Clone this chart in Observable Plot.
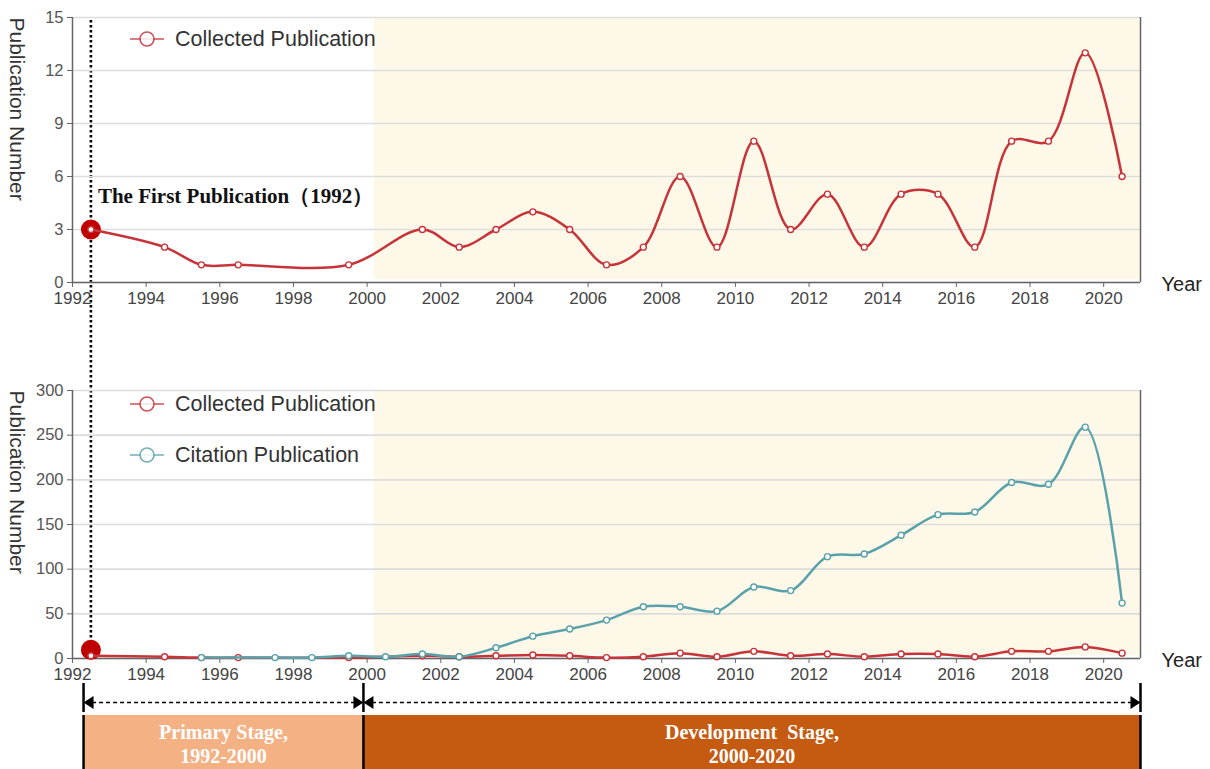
<!DOCTYPE html>
<html><head><meta charset="utf-8">
<script src="https://cdn.jsdelivr.net/npm/d3@7"></script>
<script src="https://cdn.jsdelivr.net/npm/@observablehq/plot@0.6"></script>
<style>
body{margin:0;background:#fff;font-family:"Liberation Sans",Arial,sans-serif;}
#wrap{position:relative;width:1210px;height:769px;overflow:hidden;}
#wrap > svg{position:absolute;left:0;}
.legend{position:absolute;display:flex;align-items:center;font-size:21.5px;color:#333;height:28px;white-space:nowrap;}
</style></head><body><div id="wrap"></div><script>
// ---------- data ----------
const collectedYears = [1992,1994,1995,1996,1999,2001,2002,2003,2004,2005,2006,2007,2008,2009,2010,2011,2012,2013,2014,2015,2016,2017,2018,2019,2020];
const collectedValues = [3,2,1,1,1,3,2,3,4,3,1,2,6,2,8,3,5,2,5,5,2,8,8,13,6];
const citationYears = [1995,1997,1998,1999,2000,2001,2002,2003,2004,2005,2006,2007,2008,2009,2010,2011,2012,2013,2014,2015,2016,2017,2018,2019,2020];
const citationValues = [1,1,1,3,2,5,2,12,25,33,43,58,58,53,80,76,114,117,138,161,164,197,195,259,62];
const xTickYears = [1992,1994,1996,1998,2000,2002,2004,2006,2008,2010,2012,2014,2016,2018,2020];
const topYTicks = [0,3,6,9,12,15];
const bottomYTicks = [0,50,100,150,200,250,300];
const firstYear = [1992];
const firstLabel = ["The First Publication（1992）"];
const seriesNames = ["Collected Publication","Citation Publication"];
const stageNames = ["Primary Stage,\n1992-2000","Development  Stage,\n2000-2020"];
const stageStart = [1992.3, 1999.9];
const stageEnd = [1999.9, 2021];
const shadeStart = [2000.2];
const shadeEnd = [2021];

// ---------- derived tables ----------
const collected = collectedYears.map((y,i)=>({year:y, value:collectedValues[i]}));
const citation = citationYears.map((y,i)=>({year:y, value:citationValues[i]}));
const first = firstYear.map(y => ({year:y, value: collected.find(d=>d.year===y).value, label:firstLabel[0]}));
const stages = stageNames.map((n,i)=>({name:n, start:stageStart[i], end:stageEnd[i], row:"span"}));
const stageEdges = [stageStart[0], ...stageEnd];
const shade = shadeStart.map((s,i)=>({start:s, end:shadeEnd[i]}));
const mid = d => d.year + 0.5; // values plotted at mid-year

const RED = "#c6343a", TEAL = "#5aa2ab", BIG = "#c00000";
const W = 1210, ML = 72, MR = 70;
const xDomain = [1992, 2021];
const FONT = "'Liberation Sans', Arial, sans-serif";
const SERIF = "'Liberation Serif', 'Times New Roman', serif";
const wrap = document.getElementById("wrap");
function place(svg, top){ svg.style.top = top + "px"; wrap.appendChild(svg); }

// ---------- dotted marker line (behind) ----------
place(Plot.plot({
  width: W, height: 769, marginLeft: ML, marginRight: MR, marginTop: 20, marginBottom: 119,
  x: {domain: xDomain, axis: null},
  marks: [Plot.ruleX(first, {x: mid, stroke: "#000", strokeWidth: 2.6, strokeDasharray: "2.6,2.4"})]
}), 0);

function panel({height, mt, mb, yDomain, yTicks, series, bigDy}) {
  return Plot.plot({
    width: W, height, marginLeft: ML, marginRight: MR, marginTop: mt, marginBottom: mb,
    style: {fontFamily: FONT, background: "transparent"},
    x: {domain: xDomain},
    y: {domain: yDomain},
    marks: [
      Plot.rect(shade, {x1: "start", x2: "end", fill: "#fef8e8", insetBottom: 3}),
      Plot.gridY(yTicks, {stroke: "#dddddd", strokeOpacity: 1, strokeWidth: 1.6}),
      Plot.ruleY([yDomain[0]], {stroke: "#666", strokeWidth: 1.5}),
      Plot.ruleX(xDomain, {stroke: "#666", strokeWidth: 1.5}),
      Plot.axisX({ticks: xTickYears, tickFormat: d => String(d), tickSize: 5, tickPadding: 4, fontSize: 17, stroke: "#666", fill: "#444", label: null}),
      Plot.axisY({ticks: yTicks, tickSize: 5, tickPadding: 4, fontSize: 16.5, stroke: "#666", fill: "#555", label: null}),
      Plot.dot(first, {x: mid, y: "value", r: 10, fill: BIG, dy: bigDy}),
      ...series.flatMap(s => [
        Plot.line(s.data, {x: mid, y: "value", curve: "catmull-rom", stroke: s.color, strokeWidth: 2.5}),
        Plot.dot(s.data, {x: mid, y: "value", r: 3, fill: "white", stroke: s.color, strokeWidth: 1.4})
      ]),
      Plot.text(["Publication Number"], {frameAnchor: "top-left", rotate: 90, textAnchor: "start", dx: -48, fontSize: 21, fill: "#333"}),
      Plot.text(["Year"], {frameAnchor: "bottom-right", textAnchor: "start", dx: 21, dy: 8, fontSize: 20, fill: "#222"})
    ]
  });
}

// ---------- top panel ----------
place(panel({height: 310, mt: 17, mb: 28, yDomain: [0, 15], yTicks: topYTicks,
  series: [{data: collected, color: RED}], bigDy: 0}), 0);
// annotation label in top panel
place(Plot.plot({
  width: W, height: 310, marginLeft: ML, marginRight: MR, marginTop: 17, marginBottom: 28,
  x: {domain: xDomain, axis: null}, y: {domain: [0, 15], axis: null},
  marks: [Plot.text(first, {x: mid, y: "value", text: "label", textAnchor: "start", dx: 7, dy: -33,
    fontSize: 21, fontWeight: "bold", fontFamily: SERIF, fill: "#111"})]
}), 0);

// ---------- bottom panel ----------
place(panel({height: 320, mt: 20, mb: 32, yDomain: [0, 300], yTicks: bottomYTicks,
  series: [{data: collected, color: RED}, {data: citation, color: TEAL}], bigDy: -6}), 370);

// ---------- legends ----------
function legendItem(color, label, cy) {
  const div = document.createElement("div");
  div.className = "legend";
  div.style.left = "129px"; div.style.top = (cy - 14) + "px";
  div.innerHTML = `<svg width="36" height="20" style="position:static"><line x1="1" x2="35" y1="10" y2="10" stroke="${color}" stroke-width="1.6" opacity="0.85"/><circle cx="18" cy="10" r="7" fill="white" stroke="${color}" stroke-width="1.6" opacity="0.85"/></svg><span style="margin-left:10px">${label}</span>`;
  wrap.appendChild(div);
}
legendItem(RED, seriesNames[0], 39);
legendItem(RED, seriesNames[0], 404);
legendItem(TEAL, seriesNames[1], 455);

// ---------- stage arrows ----------
const triRight = {draw(ctx){ ctx.moveTo(0,0); ctx.lineTo(-10,-6.5); ctx.lineTo(-10,6.5); ctx.closePath(); }};
const triLeft = {draw(ctx){ ctx.moveTo(0,0); ctx.lineTo(10,-6.5); ctx.lineTo(10,6.5); ctx.closePath(); }};
place(Plot.plot({
  width: W, height: 32, marginLeft: ML, marginRight: MR, marginTop: 6, marginBottom: 0,
  x: {domain: xDomain, axis: null},
  y: {type: "point", domain: ["span"], axis: null},
  marks: [
    Plot.ruleX(stageEdges, {stroke: "#000", strokeWidth: 2.5, dy: -3, insetTop: -9}),
    Plot.ruleY(stages, {y: "row", x1: "start", x2: "end", stroke: "#000", strokeWidth: 1.5, strokeDasharray: "4,3", insetLeft: 9, insetRight: 9}),
    Plot.dot(stages, {x: "start", y: "row", symbol: triLeft, fill: "#000", stroke: null, r: 5}),
    Plot.dot(stages, {x: "end", y: "row", symbol: triRight, fill: "#000", stroke: null, r: 5})
  ]
}), 683);

// ---------- stage boxes ----------
place(Plot.plot({
  width: W, height: 54, marginLeft: ML, marginRight: MR, marginTop: 0, marginBottom: 0,
  x: {domain: xDomain, axis: null},
  color: {domain: stageNames, range: ["#f4b183", "#c55a11"]},
  marks: [
    Plot.rect(stages, {x1: "start", x2: "end", fill: "name"}),
    Plot.ruleX(stageEdges, {stroke: "#000", strokeWidth: 2.5}),
    Plot.text(stages, {x: d => (d.start + d.end) / 2, text: "name", fill: "white", fontSize: 20, fontWeight: "bold",
      fontFamily: SERIF, lineHeight: 1.2, dy: 1})
  ]
}), 715);
</script></body></html>
